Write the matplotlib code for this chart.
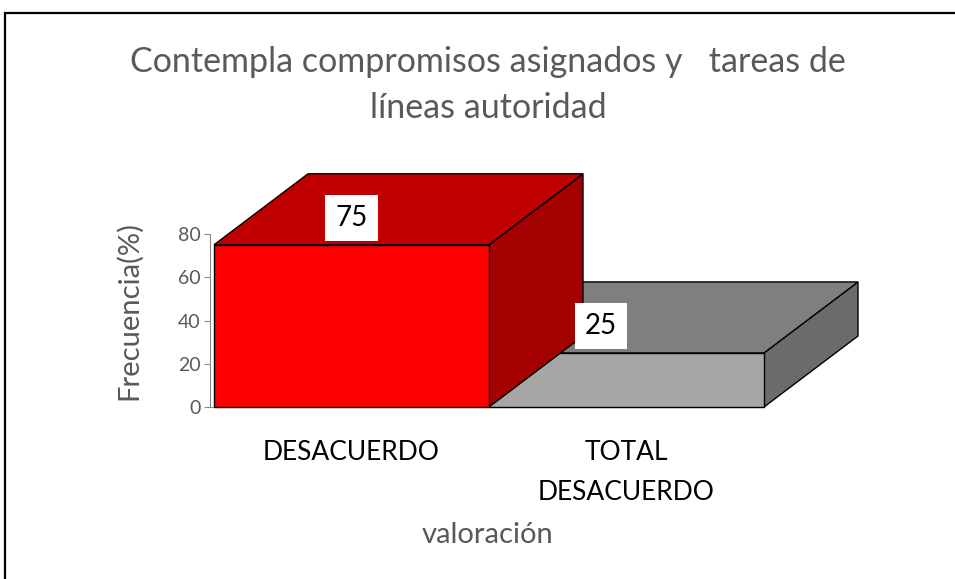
import matplotlib
matplotlib.use("Agg")
import matplotlib.pyplot as plt
from matplotlib.patches import Polygon, Rectangle

# ---- data ----
categories = ["DESACUERDO", "TOTAL\nDESACUERDO"]
values = [75, 25]
value_labels = ["75", "25"]
yticks = [0, 20, 40, 60, 80]
title = "Contempla compromisos asignados y   tareas de\nlíneas autoridad"
ylabel = "Frecuencia(%)"
xlabel = "valoración"

# ---- style ----
front_colors = ["#FF0000", "#A6A6A6"]
top_colors = ["#C00000", "#7F7F7F"]
side_colors = ["#A50000", "#6B6B6B"]
label_dx = [0.0, -0.093]
gray = "#595959"
FONT = "Lato"

W, H = 955, 579
fig = plt.figure(figsize=(W / 100, H / 100), dpi=100)

# axes positioned in pixel terms
x_left_px, x_right_px = 210, 764
y_bot_px, y_top_px = 407, 234
ax = fig.add_axes([x_left_px / W, (H - y_bot_px) / H,
                   (x_right_px - x_left_px) / W, (y_bot_px - y_top_px) / H])
bar_w = 1.0
px_per_unit = 275.0
xmin = -0.5 - (214 - x_left_px) / px_per_unit
ax.set_xlim(xmin, 1.5)
ax.set_ylim(0, 80)

# depth offsets in data units
dx = 94 / px_per_unit
dy = 71 / ((y_bot_px - y_top_px) / 80)

order = [1, 0]
for i in order:
    v = values[i]
    x0 = i - bar_w / 2
    x1 = i + bar_w / 2
    front = Polygon([(x0, 0), (x1, 0), (x1, v), (x0, v)], closed=True,
                    facecolor=front_colors[i], edgecolor="black", lw=1.0,
                    clip_on=False, zorder=3)
    top = Polygon([(x0, v), (x1, v), (x1 + dx, v + dy), (x0 + dx, v + dy)],
                  closed=True, facecolor=top_colors[i], edgecolor="black",
                  lw=1.0, clip_on=False, zorder=3)
    side = Polygon([(x1, 0), (x1 + dx, dy), (x1 + dx, v + dy), (x1, v)],
                   closed=True, facecolor=side_colors[i], edgecolor="black",
                   lw=1.0, clip_on=False, zorder=3)
    for p in (side, top, front):
        ax.add_patch(p)
    ax.text(i + label_dx[i], v + 12.4, value_labels[i], ha="center",
            va="center", fontsize=20, family=FONT, color="black", zorder=5,
            bbox=dict(boxstyle="square,pad=0.36", facecolor="white",
                      edgecolor="none"))

for s in ["top", "right"]:
    ax.spines[s].set_visible(False)
ax.spines["left"].set_color("#888888")
ax.spines["bottom"].set_color("#888888")
ax.spines["left"].set_bounds(0, 80)
ax.spines["bottom"].set_zorder(1)
ax.set_yticks(yticks)
ax.set_yticklabels([str(t) for t in yticks], family=FONT, fontsize=14,
                   color=gray)
ax.tick_params(axis="y", length=4, color="#888888", pad=3)
ax.set_xticks(range(len(categories)))
ax.set_xticklabels(categories, family=FONT, fontsize=19, color="black",
                   linespacing=1.75)
ax.tick_params(axis="x", length=0, pad=24)
ax.set_ylabel(ylabel, family=FONT, fontsize=21, color=gray)
ax.yaxis.set_label_coords((142 - x_left_px) / (x_right_px - x_left_px),
                          (y_bot_px - 311) / (y_bot_px - y_top_px))
ax.patch.set_alpha(0)

fig.text(488 / W, 1 - 85 / H, title, ha="center", va="center", family=FONT,
         fontsize=24.5, color=gray, linespacing=1.5)
fig.text(488 / W, 1 - 535 / H, xlabel, ha="center", va="center", family=FONT,
         fontsize=21, color=gray)

# outer frame
fig.patches.append(Rectangle((5 / W, -0.05), 1.2, 1.05 - 13 / H,
                             transform=fig.transFigure, fill=False,
                             edgecolor="black", lw=1.6))

fig.savefig("out.png", dpi=100)
